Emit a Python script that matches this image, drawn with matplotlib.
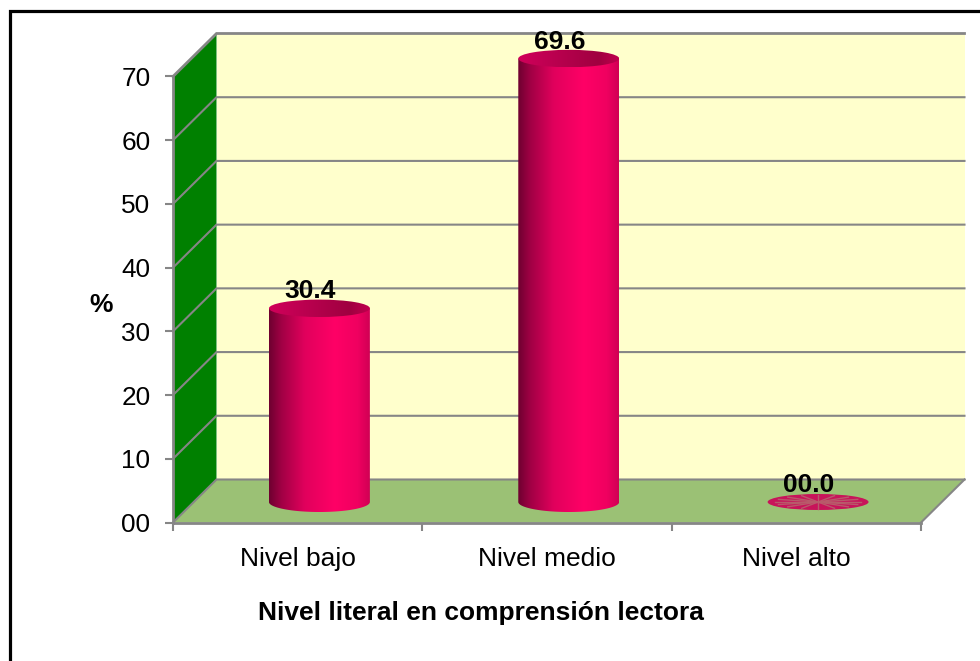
import numpy as np
import matplotlib
matplotlib.use("Agg")
import matplotlib.pyplot as plt
from matplotlib.lines import Line2D
from matplotlib.patches import Ellipse, Polygon
from matplotlib.colors import LinearSegmentedColormap

categories = ["Nivel bajo", "Nivel medio", "Nivel alto"]
values = [30.4, 69.6, 0.0]
value_labels = ["30.4", "69.6", "00.0"]
yticks = [0, 10, 20, 30, 40, 50, 60, 70]
ytick_labels = ["00", "10", "20", "30", "40", "50", "60", "70"]

W, H = 980, 661
plt.rcParams["font.family"] = ["Liberation Sans", "DejaVu Sans"]

fig = plt.figure(figsize=(W / 100, H / 100), dpi=100)
fig.patch.set_facecolor("white")

# outer frame, only left and top are inside the picture
fig.add_artist(Line2D([9.5 / W, 9.5 / W, 1], [0, 1 - 10.8 / H, 1 - 10.8 / H], color="black",
                      linewidth=2.3, solid_joinstyle="miter", transform=fig.transFigure))

left, right, top, bottom = 173, 921, 76.5, 522.5
ax = fig.add_axes([left / W, 1 - bottom / H, (right - left) / W, (bottom - top) / H])
ax.patch.set_visible(False)
for s in ["top", "right"]:
    ax.spines[s].set_visible(False)
for s in ["left", "bottom"]:
    ax.spines[s].set_color("#868686")
    ax.spines[s].set_linewidth(2)
    ax.spines[s].set_zorder(6)

px_x = 3 / (right - left)
px_y = 70 / (bottom - top)
dx = 43.5 * px_x   # depth of the box
dy = 43 * px_y
grey = "#868686"

# walls and floor
ax.add_patch(Polygon([(-0.5 + dx, dy), (2.5 + dx, dy), (2.5 + dx, 70 + dy), (-0.5 + dx, 70 + dy)],
                     facecolor="#ffffcc", edgecolor="none", zorder=1, clip_on=False))
ax.add_patch(Polygon([(-0.5, 0), (-0.5 + dx, dy), (-0.5 + dx, 70 + dy), (-0.5, 70)],
                     facecolor="#008000", edgecolor="none", zorder=1, clip_on=False))
ax.add_patch(Polygon([(-0.5, 0), (2.5, 0), (2.5 + dx, dy), (-0.5 + dx, dy)],
                     facecolor="#9bc175", edgecolor="none", zorder=1, clip_on=False))

# gridlines, back wall and side wall
for t in yticks:
    ax.plot([-0.5, -0.5 + dx, 2.5 + dx], [t, t + dy, t + dy], color=grey,
            lw=2 if t == 70 else 1.5, zorder=2, clip_on=False, solid_joinstyle="miter")
ax.plot([2.5, 2.5 + dx], [0, dy], color=grey, lw=1.5, zorder=2, clip_on=False)

# ticks
ax.set_yticks(yticks)
ax.set_yticklabels(ytick_labels, fontsize=18.8, color="black")
ax.set_xticks([-0.5, 0.5, 1.5, 2.5])
ax.set_xticklabels([])
ax.tick_params(axis="both", color=grey, width=1.5, length=5.8, direction="out")
ax.tick_params(axis="y", pad=10.5)

for i, c in enumerate(categories):
    ax.annotate(c, (i, 0), xytext=(0, -31), textcoords="offset points", ha="center",
                va="baseline", fontsize=19, annotation_clip=False)

fig.text(481 / W, 1 - 620 / H, "Nivel literal en comprensión lectora", ha="center",
         va="baseline", fontsize=19, fontweight="bold")
fig.text(101 / W, 1 - 312 / H, "%", ha="center", va="baseline", fontsize=19, fontweight="bold")

# cylinders
body_cmap = LinearSegmentedColormap.from_list(
    "body", [(0, "#6e0030"), (0.12, "#a00044"), (0.35, "#e0005c"), (0.65, "#ff0066"),
             (0.88, "#f00060"), (1, "#d00054")])
top_cmap = LinearSegmentedColormap.from_list(
    "top", [(0, "#d0005a"), (0.4, "#b8004e"), (0.8, "#a00040"), (1, "#c0004e")])

rx = 0.2024      # half bar width in data units
ry = 10 * px_y
ry_top = 8.7 * px_y
grad = np.linspace(0, 1, 256).reshape(1, -1)

for i, v in enumerate(values):
    cx = i + dx / 2
    base = 20.5 * px_y
    if v > 0:
        y1 = base + v
        t = np.linspace(np.pi, 2 * np.pi, 80)
        xs = np.concatenate([cx + rx * np.cos(t), [cx + rx, cx - rx]])
        ys = np.concatenate([base + ry * np.sin(t), [y1, y1]])
        im = ax.imshow(grad, extent=[cx - rx, cx + rx, base - ry, y1], cmap=body_cmap,
                       aspect="auto", zorder=3)
        im.set_clip_path(Polygon(np.column_stack([xs, ys]), transform=ax.transData))
        im.set_clip_box(fig.bbox)
        im2 = ax.imshow(grad, extent=[cx - rx, cx + rx, y1 - ry_top, y1 + ry_top], cmap=top_cmap,
                        aspect="auto", zorder=4)
        im2.set_clip_path(Ellipse((cx, y1), 2 * rx, 2 * ry_top, transform=ax.transData))
        im2.set_clip_box(fig.bbox)
    else:
        ax.add_patch(Ellipse((cx, base), 2 * rx, 2 * ry * 0.8, facecolor="#c8145a",
                             edgecolor="none", zorder=3, clip_on=False))
        t = np.linspace(0, 2 * np.pi, 33)[:-1]
        for a in t[::2]:
            ax.plot([cx, cx + 0.85 * rx * np.cos(a)], [base, base + 0.85 * ry * 0.8 * np.sin(a)],
                    color="#b85a6a", lw=1.0, zorder=3.5, clip_on=False)
    ax.annotate(value_labels[i], (cx, base + v), xytext=(-6.5, 7.2), textcoords="offset points",
                ha="center", va="baseline", fontsize=19, fontweight="bold", zorder=7,
                annotation_clip=False)

ax.set_xlim(-0.5, 2.5)
ax.set_ylim(0, 70)
fig.savefig("out.png", dpi=100)
